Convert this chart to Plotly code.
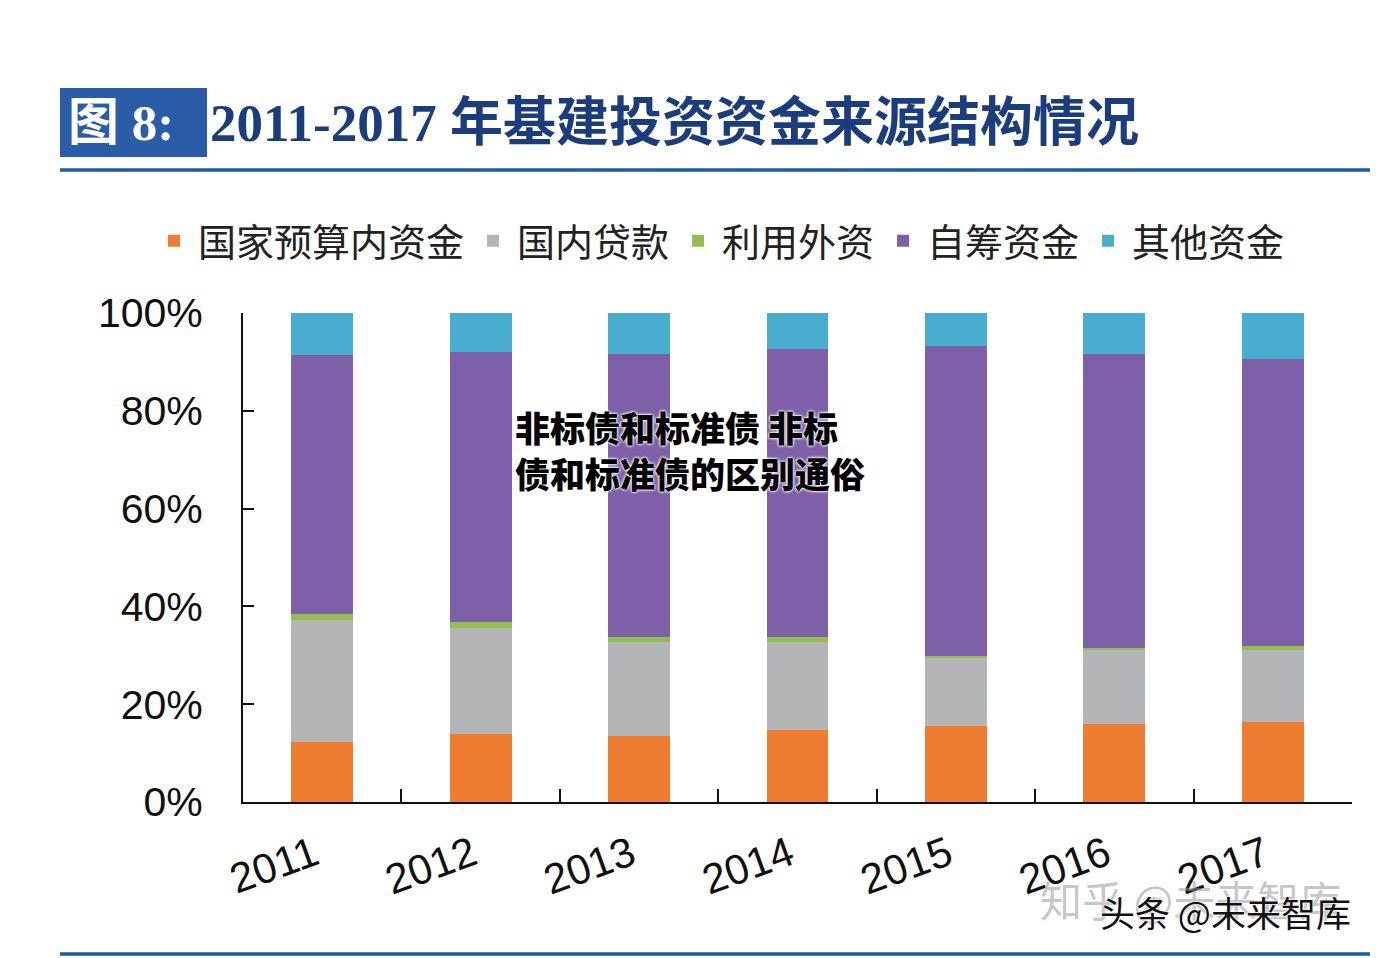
import plotly.graph_objects as go

years = ["2011", "2012", "2013", "2014", "2015", "2016", "2017"]
series_names = ["国家预算内资金", "国内贷款", "利用外资", "自筹资金", "其他资金"]
budget = [12.3, 13.9, 13.4, 14.8, 15.5, 15.9, 16.4]
loans = [25.0, 21.7, 19.3, 17.9, 14.1, 15.2, 14.6]
foreign = [1.1, 1.2, 1.0, 1.0, 0.3, 0.4, 1.0]
selfraised = [53.1, 55.3, 57.9, 59.0, 63.3, 60.1, 58.6]
other = [8.5, 7.9, 8.4, 7.3, 6.8, 8.4, 9.4]
y_ticks = [0, 20, 40, 60, 80, 100]
y_tick_labels = ["0%", "20%", "40%", "60%", "80%", "100%"]

colors = ["#EE7D31", "#B3B5B7", "#93BE4E", "#7D60A8", "#48ADCF"]
values = [budget, loans, foreign, selfraised, other]

# page body has an 8px margin, so the figure is drawn 8px in from the window edge
OFF = 8
W, H = 1378 - OFF, 958 - OFF
L, R, T, B = 243, 1352, 313, 802  # screen pixel positions of the plot area


def px(x):
    return (x - L) / (R - L)


def py(y):
    return (B - y) / (B - T)


fig = go.Figure()
for name, vals, col in zip(series_names, values, colors):
    fig.add_trace(go.Bar(
        x=years, y=vals, name=name, width=0.39,
        marker=dict(color=col, line=dict(width=0)),
    ))

fig.update_layout(
    barmode="stack",
    width=W, height=H, autosize=False,
    margin=dict(l=L - OFF, r=W - (R - OFF), t=T - OFF, b=H - (B - OFF), pad=0),
    paper_bgcolor="white", plot_bgcolor="white",
    font=dict(family="Liberation Sans, Arial, Noto Sans CJK SC", color="#111"),
    legend=dict(
        orientation="h", x=px(150), xanchor="left", y=py(241), yanchor="middle",
        font=dict(family="Noto Sans CJK SC", size=38, color="#222"),
        bgcolor="rgba(0,0,0,0)", itemwidth=38, traceorder="normal",
    ),
    showlegend=True,
)

fig.update_xaxes(
    type="category", range=[-0.5, 6.5],
    showline=True, linecolor="#111", linewidth=2,
    ticks="inside", tickson="boundaries", ticklen=13, tickwidth=2, tickcolor="#111",
    tickangle=-20, tickfont=dict(size=42, family="Liberation Sans, Arial", color="#111"),
    ticklabelstandoff=10, ticklabelshift=-8,
    showgrid=False, zeroline=False, mirror=False,
)
fig.update_yaxes(
    range=[0, 100], tickvals=y_ticks, ticktext=y_tick_labels,
    showline=True, linecolor="#111", linewidth=2,
    ticks="inside", ticklen=11, tickwidth=2, tickcolor="#111",
    tickfont=dict(size=41, family="Liberation Sans, Arial", color="#111"),
    ticklabelstandoff=30,
    showgrid=False, zeroline=False,
)

shapes = [
    dict(type="rect", xref="paper", yref="paper", x0=px(60), x1=px(207), y0=py(157), y1=py(88),
         fillcolor="#2A5CA8", line=dict(width=0), layer="above"),
    dict(type="line", xref="paper", yref="paper", x0=px(60), x1=px(1372), y0=py(170), y1=py(170),
         line=dict(color="#1F5AA6", width=3.5), layer="above"),
    dict(type="line", xref="paper", yref="paper", x0=px(60), x1=px(1372), y0=py(954), y1=py(954),
         line=dict(color="#1F5AA6", width=3.5), layer="above"),
]
fig.update_layout(shapes=shapes)

ann = []
ann.append(dict(xref="paper", yref="paper", x=px(66), y=py(123), xanchor="left", yanchor="middle",
                text="<b>图 8:</b>", showarrow=False,
                font=dict(family="Liberation Serif, Noto Sans CJK SC", size=51, color="white")))
ann.append(dict(xref="paper", yref="paper", x=px(208), y=py(123), xanchor="left", yanchor="middle",
                text="<b>2011-2017 年基建投资资金来源结构情况</b>", showarrow=False,
                font=dict(family="Liberation Serif, Noto Sans CJK SC", size=53, color="#1B3D7E")))
ann.append(dict(xref="paper", yref="paper", x=px(513), y=py(449), xanchor="left", yanchor="middle",
                align="left",
                text="非标债和标准债 非标<br>债和标准债的区别通俗", showarrow=False,
                font=dict(family="Noto Sans CJK SC", size=35, color="#000", weight=900,
                          shadow="0 0 3px #fff, 0 0 3px #fff, 0 0 2px #fff")))
ann.append(dict(xref="paper", yref="paper", x=px(1038), y=py(898), xanchor="left", yanchor="middle",
                text="知乎 @未来智库", showarrow=False,
                font=dict(family="Noto Sans CJK SC", size=42, color="rgba(150,150,150,0.55)")))
ann.append(dict(xref="paper", yref="paper", x=px(1098), y=py(911), xanchor="left", yanchor="middle",
                text="头条 @未来智库", showarrow=False,
                font=dict(family="Noto Sans CJK SC", size=35, color="#111",
                          shadow="0 0 2px #fff, 0 0 2px #fff")))
fig.update_layout(annotations=ann)

fig.write_html("out.html")
